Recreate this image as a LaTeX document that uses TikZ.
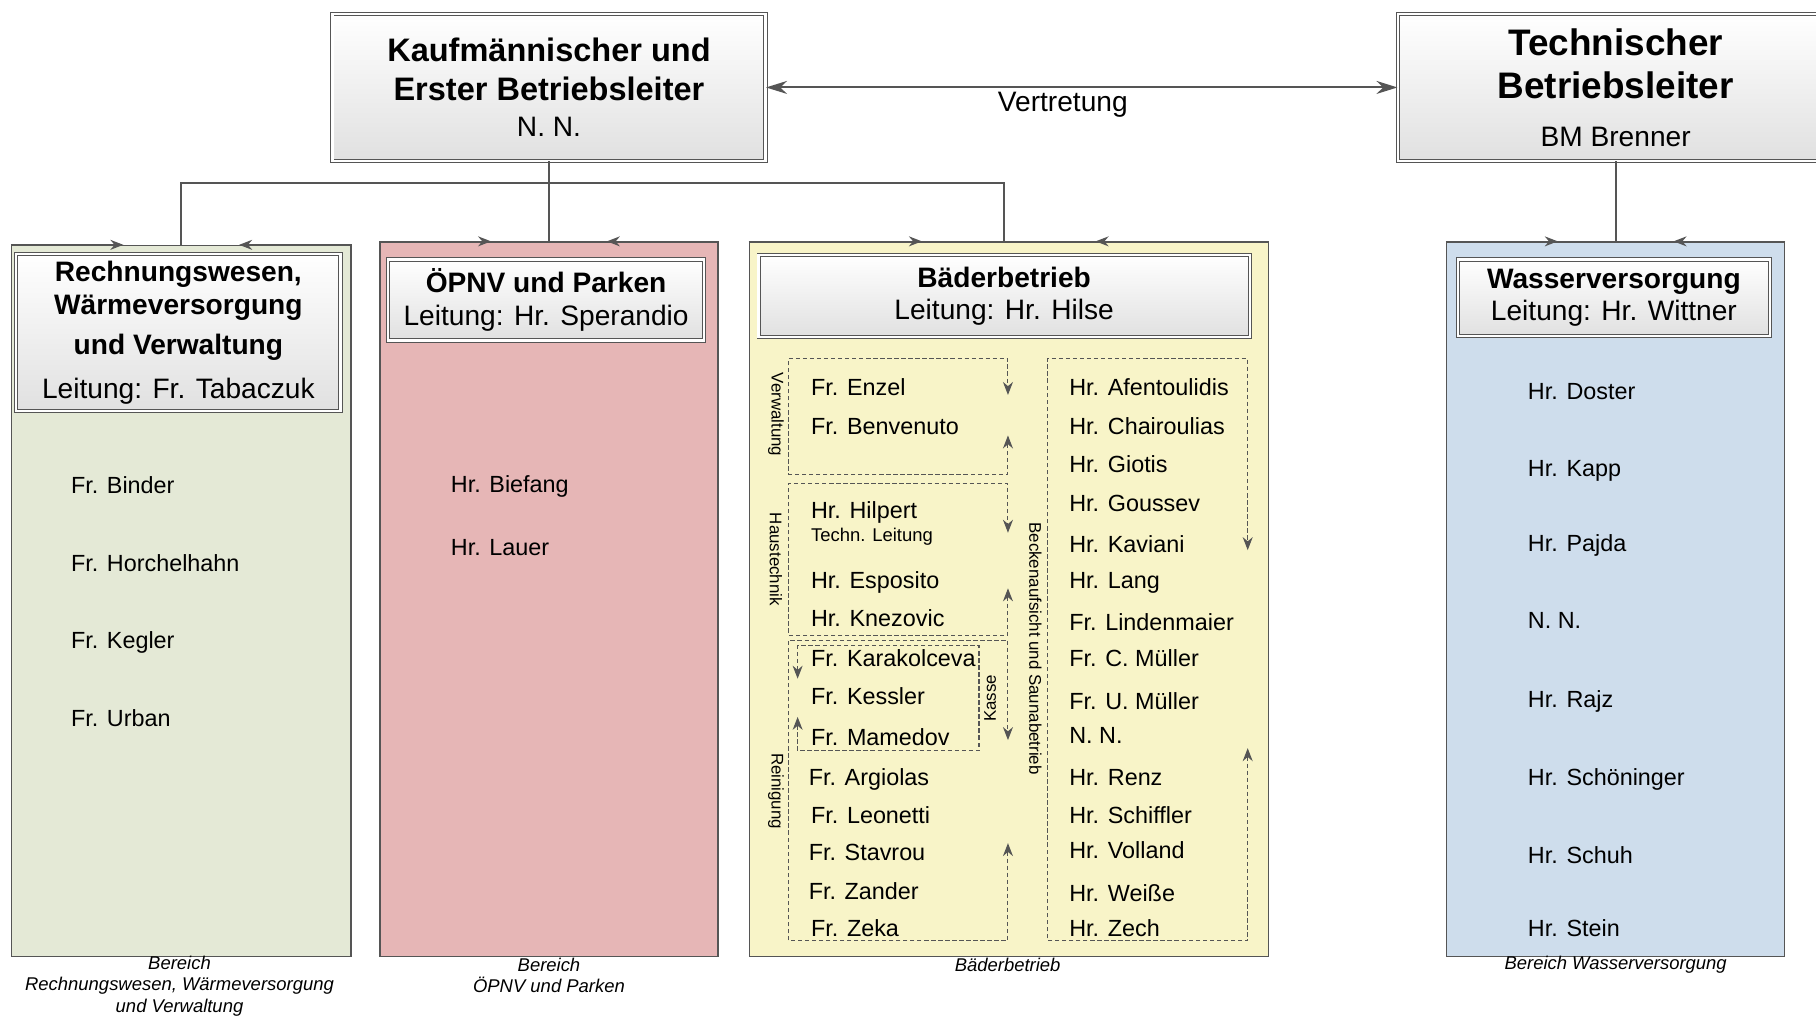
\documentclass[tikz,border=0pt]{standalone}
\usepackage{fontspec}
\setmainfont{Liberation Sans}
\usepackage{tikz}
\usetikzlibrary{arrows.meta}
\newlength{\pxu}
\setlength{\pxu}{0.2316mm}
\definecolor{linegray}{RGB}{85,85,85}
\definecolor{rwgreen}{RGB}{228,233,214}
\definecolor{oepink}{RGB}{230,182,182}
\definecolor{bdyellow}{RGB}{248,244,200}
\definecolor{wvblue}{RGB}{206,221,236}

\begin{document}
\begin{tikzpicture}[x=0.2316mm, y=-0.2316mm, >={Stealth[length=4.2mm, width=2.6mm]},
        col/.style={draw=linegray, line width=0.8pt, inner sep=0pt},
        hdr/.style={draw=linegray, double=white, double distance=0.45mm, line width=0.55pt, top color=white, bottom color=black!12, align=center, inner sep=0pt, font=\fontsize{16}{18.4}\selectfont},
        grp/.style={inner sep=0pt},
        grpline/.style={draw=linegray, line width=0.6pt, dash pattern=on 2.5pt off 1.5pt, {Stealth[length=2.6mm, width=2mm]}-{Stealth[length=2.6mm, width=2mm]}},
        conn/.style={draw=linegray, line width=1.1pt},
        edgetip/.style={draw=linegray, line width=0.8pt, -{Stealth[length=2.6mm, width=2mm]}},
        member/.style={anchor=west, inner sep=0pt, text height=9.6pt, text depth=0pt, font=\fontsize{13.3}{16}\selectfont},
        side/.style={inner sep=0pt, font=\fontsize{9.6}{11}\selectfont},
        caption/.style={inner sep=0pt, align=center, font=\fontsize{10.5}{12.1}\selectfont\itshape}]
        \clip (0,0) rectangle (1568,877);

        \node[hdr, font=\fontsize{18.5}{21.7}\selectfont\bfseries, minimum width=374\pxu, minimum height=127\pxu] (K) at (474,75.5) {Kaufmännischer und\\Erster Betriebsleiter\\[-1pt]\mdseries\fontsize{16}{19.7}\selectfont N. N.};
        \node[hdr, font=\fontsize{21}{24.3}\selectfont\bfseries, minimum width=376\pxu, minimum height=127\pxu] (T) at (1395,75.5) {Technischer\\Betriebsleiter\\[3pt]\mdseries\fontsize{16}{19}\selectfont BM Brenner};

        \node[col, fill=rwgreen, minimum width=293\pxu, minimum height=614\pxu] (A) at (156.5,519) {};
        \node[col, fill=oepink, minimum width=292\pxu, minimum height=617\pxu] (B) at (474,517.5) {};
        \node[col, fill=bdyellow, minimum width=448\pxu, minimum height=617\pxu] (C) at (871,517.5) {};
        \node[col, fill=wvblue, minimum width=292\pxu, minimum height=617\pxu] (D) at (1395,517.5) {};

        \node[hdr, font=\fontsize{16}{19}\selectfont\bfseries, minimum width=280\pxu, minimum height=136\pxu] (A0) at (154,287) {Rechnungswesen,\\Wärmeversorgung\\[3.4pt]und Verwaltung\\[6pt]\mdseries Leitung: Fr. Tabaczuk};
        \node[hdr, minimum width=273\pxu, minimum height=70\pxu] (B0) at (471.5,259) {\textbf{ÖPNV und Parken}\\Leitung: Hr. Sperandio};
        \node[hdr, minimum width=424\pxu, minimum height=71\pxu] (C0) at (867,255.5) {\textbf{Bäderbetrieb}\\Leitung: Hr. Hilse};
        \node[hdr, minimum width=269\pxu, minimum height=66\pxu] (D0) at (1393.5,257) {\textbf{Wasserversorgung}\\Leitung: Hr. Wittner};

        \draw[conn, <->] (K.east) -- node[below=2pt, pos=0.47, inner sep=0pt, font=\fontsize{16}{19}\selectfont] {Vertretung} (T.west);

        \coordinate (J) at (474,158);
        \draw[conn] (K.south) -- (J);
        \draw[conn] (J) -| (A.north);
        \draw[conn] (J) -- (B.north);
        \draw[conn] (J) -| ([xshift=-4\pxu]C.north);
        \draw[conn] (T.south) -- (D.north);

        \draw[edgetip] (A.north west) -- ([xshift=-50\pxu]A.north);
        \draw[edgetip] (A.north east) -- ([xshift=50\pxu]A.north);
        \draw[edgetip] (B.north west) -- ([xshift=-50\pxu]B.north);
        \draw[edgetip] (B.north east) -- ([xshift=50\pxu]B.north);
        \draw[edgetip] (C.north west) -- ([xshift=-75\pxu]C.north);
        \draw[edgetip] (C.north east) -- ([xshift=75\pxu]C.north);
        \draw[edgetip] (D.north west) -- ([xshift=-50\pxu]D.north);
        \draw[edgetip] (D.north east) -- ([xshift=50\pxu]D.north);

        \node[grp, minimum width=189\pxu, minimum height=99\pxu] (Vw) at (775.5,359.5) {};
        \node[grp, minimum width=189\pxu, minimum height=130\pxu] (Ht) at (775.5,483) {};
        \node[grp, minimum width=189\pxu, minimum height=259\pxu] (Rg) at (775.5,682.5) {};
        \node[grp, minimum width=156\pxu, minimum height=90\pxu] (Ks) at (767,603) {};
        \node[grp, minimum width=172\pxu, minimum height=502\pxu] (Bk) at (991,561) {};

        \draw[grpline] ([yshift=-16.5\pxu]Vw.east) -- (Vw.south east) -- (Vw.south west) -- (Vw.north west) -- (Vw.north east) -- ([yshift=18.5\pxu]Vw.east);
        \draw[grpline] ([yshift=-25\pxu]Ht.east) -- (Ht.south east) -- (Ht.south west) -- (Ht.north west) -- (Ht.north east) -- ([yshift=23\pxu]Ht.east);
        \draw[grpline] ([yshift=-45.5\pxu]Rg.east) -- (Rg.south east) -- (Rg.south west) -- (Rg.north west) -- (Rg.north east) -- ([yshift=43.5\pxu]Rg.east);
        \draw[grpline] ([yshift=-16\pxu]Ks.west) -- (Ks.south west) -- (Ks.south east) -- (Ks.north east) -- (Ks.north west) -- ([yshift=17\pxu]Ks.west);
        \draw[grpline] ([yshift=-85\pxu]Bk.east) -- (Bk.south east) -- (Bk.south west) -- (Bk.north west) -- (Bk.north east) -- ([yshift=86\pxu]Bk.east);

        \node[side, rotate=-90] (Vwl) at (670,358) {Verwaltung};
        \node[side, rotate=-90] (Htl) at (670,483) {Haustechnik};
        \node[side, rotate=-90] (Rgl) at (670,683) {Reinigung};
        \node[side, rotate=90] (Ksl) at (855,603) {Kasse};
        \node[side, rotate=-90] (Bkl) at (894,560) {Beckenaufsicht und Saunabetrieb};

        \node[member] (A1) at (61,419) {Fr. Binder};
        \node[member] (A2) at (61,486) {Fr. Horchelhahn};
        \node[member] (A3) at (61,553) {Fr. Kegler};
        \node[member] (A4) at (61,620) {Fr. Urban};

        \node[member] (B1) at (389,418) {Hr. Biefang};
        \node[member] (B2) at (389,472) {Hr. Lauer};

        \node[member] (V1) at (700,334) {Fr. Enzel};
        \node[member] (V2) at (700,368) {Fr. Benvenuto};
        \node[member] (H1) at (700,440) {Hr. Hilpert};
        \node[member, text height=7.6pt, font=\fontsize{10.5}{12}\selectfont] (H1t) at (700,462) {Techn. Leitung};
        \node[member] (H2) at (700,501) {Hr. Esposito};
        \node[member] (H3) at (700,534) {Hr. Knezovic};
        \node[member] (Ks1) at (700,568) {Fr. Karakolceva};
        \node[member] (Ks2) at (700,601) {Fr. Kessler};
        \node[member] (Ks3) at (700,636) {Fr. Mamedov};
        \node[member] (R1) at (698,671) {Fr. Argiolas};
        \node[member] (R2) at (700,704) {Fr. Leonetti};
        \node[member] (R3) at (698,736) {Fr. Stavrou};
        \node[member] (R4) at (698,769) {Fr. Zander};
        \node[member] (R5) at (700,801) {Fr. Zeka};

        \node[member] (G1) at (923,334) {Hr. Afentoulidis};
        \node[member] (G2) at (923,368) {Hr. Chairoulias};
        \node[member] (G3) at (923,401) {Hr. Giotis};
        \node[member] (G4) at (923,434) {Hr. Goussev};
        \node[member] (G5) at (923,470) {Hr. Kaviani};
        \node[member] (G6) at (923,501) {Hr. Lang};
        \node[member] (G7) at (923,537) {Fr. Lindenmaier};
        \node[member] (G8) at (923,568) {Fr. C. Müller};
        \node[member] (G9) at (923,605) {Fr. U. Müller};
        \node[member] (G10) at (923,635) {N. N.};
        \node[member] (G11) at (923,671) {Hr. Renz};
        \node[member] (G12) at (923,704) {Hr. Schiffler};
        \node[member] (G13) at (923,734) {Hr. Volland};
        \node[member] (G14) at (923,771) {Hr. Weiße};
        \node[member] (G15) at (923,801) {Hr. Zech};

        \node[member] (D1) at (1319,338) {Hr. Doster};
        \node[member] (D2) at (1319,404) {Hr. Kapp};
        \node[member] (D3) at (1319,469) {Hr. Pajda};
        \node[member] (D4) at (1319,535) {N. N.};
        \node[member] (D5) at (1319,604) {Hr. Rajz};
        \node[member] (D6) at (1319,671) {Hr. Schöninger};
        \node[member] (D7) at (1319,738) {Hr. Schuh};
        \node[member] (D8) at (1319,801) {Hr. Stein};

        \node[caption] (Ac) at (155,851.5) {Bereich\\Rechnungswesen, Wärmeversorgung\\und Verwaltung};
        \node[caption] (Bc) at (474,842.5) {Bereich\\ÖPNV und Parken};
        \node[caption] (Cc) at (870,833) {Bäderbetrieb};
        \node[caption] (Dc) at (1395,833) {Bereich Wasserversorgung};
    \end{tikzpicture}
\end{document}
